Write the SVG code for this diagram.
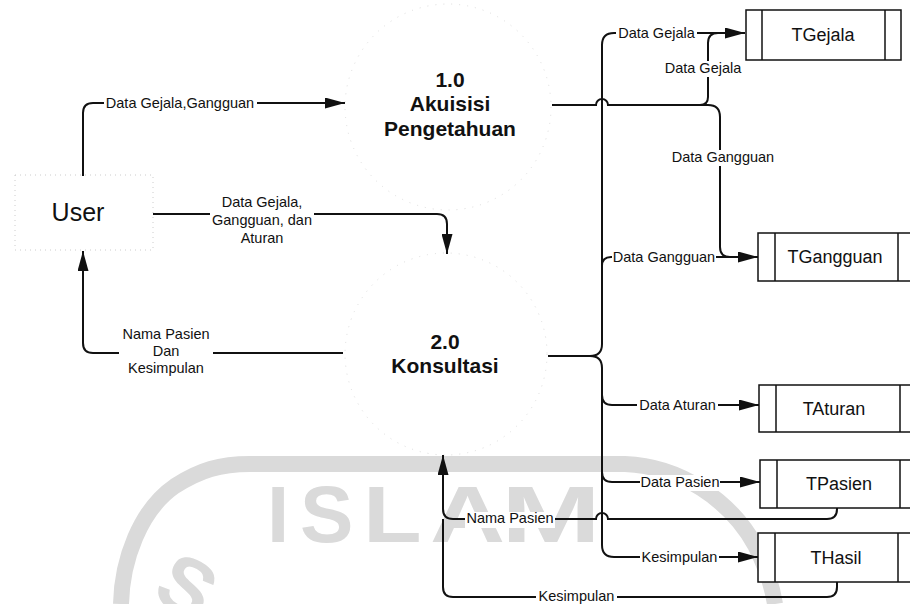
<svg xmlns="http://www.w3.org/2000/svg" width="910" height="604" viewBox="0 0 910 604">
<style>
.wm{fill:#dadada;font-family:"Liberation Sans",Arial,sans-serif;font-size:80px;font-weight:bold}
.band{fill:none;stroke:#dadada;stroke-width:16}
.proc{fill:none;stroke:#dddddd;stroke-width:1;stroke-dasharray:1 7}
.ent{fill:none;stroke:#cccccc;stroke-width:1;stroke-dasharray:1 4}
.ptxt{font-family:"Liberation Sans",Arial,sans-serif;font-size:21px;font-weight:bold;fill:#111;text-anchor:middle}
.utxt{font-family:"Liberation Sans",Arial,sans-serif;font-size:25px;fill:#111;text-anchor:middle}
.ttxt{font-family:"Liberation Sans",Arial,sans-serif;font-size:18px;fill:#111;text-anchor:middle}
.lbl{font-family:"Liberation Sans",Arial,sans-serif;font-size:14.5px;fill:#111;text-anchor:middle}
.bg{fill:#fff;stroke:none}
.store{fill:#fff;stroke:#111;stroke-width:1.5}
.flow{fill:none;stroke:#111;stroke-width:2}
.arr{marker-end:url(#ah)}
</style>
<defs>
<marker id="ah" markerUnits="userSpaceOnUse" markerWidth="20" markerHeight="11" refX="20" refY="5.5" orient="auto">
<path d="M0,0 L20,5.5 L0,11 z" fill="#111"/>
</marker>
</defs>
<rect width="910" height="604" fill="#fff"/>
<g id="watermark">
<path class="band" d="M121,604 C122,560 140,510 175,486 C200,470 220,464 250,464 L625,464 C680,466 730,500 755,545 C765,565 772,585 775,604"/>
<text class="wm" transform="translate(267,542)">I</text>
<text class="wm" transform="translate(300,542)">S</text>
<text class="wm" transform="translate(363,542) scale(1.2,1)">L</text>
<text class="wm" transform="translate(430,542) scale(1.3,1)">A</text>
<text class="wm" transform="translate(501,542) scale(1.5,1)">M</text>
<text class="wm" transform="translate(150,597) rotate(30)">S</text>
</g>
<g id="user">
<rect class="ent" x="15" y="175" width="138" height="75"/>
<text class="utxt" x="78" y="221">User</text>
</g>
<g id="p1">
<circle class="proc" cx="448" cy="107" r="103"/>
<text class="ptxt" x="450" y="87">1.0</text>
<text class="ptxt" x="450" y="111">Akuisisi</text>
<text class="ptxt" x="450" y="136">Pengetahuan</text>
</g>
<g id="p2">
<circle class="proc" cx="446" cy="354" r="101"/>
<text class="ptxt" x="445" y="349">2.0</text>
<text class="ptxt" x="445" y="373">Konsultasi</text>
</g>
<g id="tgejala">
<rect class="store" x="746" y="10" width="155" height="50"/>
<line class="store" x1="762" y1="10" x2="762" y2="60"/>
<line class="store" x1="885" y1="10" x2="885" y2="60"/>
<text class="ttxt" x="823" y="41">TGejala</text>
</g>
<g id="tgangguan">
<rect class="store" x="758" y="233" width="160" height="48"/>
<line class="store" x1="775" y1="233" x2="775" y2="281"/>
<line class="store" x1="898" y1="233" x2="898" y2="281"/>
<text class="ttxt" x="835" y="263">TGangguan</text>
</g>
<g id="taturan">
<rect class="store" x="759" y="385" width="160" height="47"/>
<line class="store" x1="776" y1="385" x2="776" y2="432"/>
<line class="store" x1="900" y1="385" x2="900" y2="432"/>
<text class="ttxt" x="834" y="415">TAturan</text>
</g>
<g id="tpasien">
<rect class="store" x="760" y="460" width="160" height="48"/>
<line class="store" x1="777" y1="460" x2="777" y2="508"/>
<line class="store" x1="900" y1="460" x2="900" y2="508"/>
<text class="ttxt" x="839" y="490">TPasien</text>
</g>
<g id="thasil">
<rect class="store" x="758" y="533" width="160" height="49"/>
<line class="store" x1="775" y1="533" x2="775" y2="582"/>
<line class="store" x1="898" y1="533" x2="898" y2="582"/>
<text class="ttxt" x="836" y="564">THasil</text>
</g>
<g id="connectors">
<path class="flow arr" d="M83,176 L83,113 Q83,103 93,103 L345,103"/>
<path class="flow arr" d="M153,214 L437,214 Q447,214 447,224 L447,254"/>
<path class="flow arr" d="M343,353 L93,353 Q83,353 83,343 L83,251"/>
<path class="flow" d="M552,105 L596,105 A6,6 0 0 1 608,105 L700,105 Q708,105 708,97 L708,43 Q708,33 718,33"/>
<path class="flow arr" d="M700,105 L708,105 Q720,105 720,117 L720,247 Q720,257 730,257 L758,257"/>
<path class="flow arr" d="M548,356 L590,356 Q602,356 602,344 L602,45 Q602,33 614,33 L745,33"/>
<path class="flow arr" d="M590,356 Q602,356 602,368 L602,545 Q602,557 614,557 L758,557"/>
<path class="flow" d="M602,266 Q602,257 611,257 L730,257"/>
<path class="flow arr" d="M602,395 Q602,405 612,405 L759,405"/>
<path class="flow arr" d="M602,472 Q602,482 612,482 L760,482"/>
<path class="flow arr" d="M837,508 L837,509 Q837,519 827,519 L608,519 A6,6 0 0 0 596,519 L453,519 Q443,519 443,509 L443,455"/>
<path class="flow" d="M837,582 L837,587 Q837,597 827,597 L453,597 Q443,597 443,587 L443,519"/>
<g id="labels">
<rect class="bg" x="104" y="96" width="153" height="15"/>
<text class="lbl" x="180" y="108">Data Gejala,Gangguan</text>
<rect class="bg" x="210" y="193" width="104" height="55"/>
<text class="lbl" x="262" y="207">Data Gejala,</text>
<text class="lbl" x="262" y="225">Gangguan, dan</text>
<text class="lbl" x="262" y="243">Aturan</text>
<rect class="bg" x="119" y="325" width="94" height="53"/>
<text class="lbl" x="166" y="339">Nama Pasien</text>
<text class="lbl" x="166" y="356">Dan</text>
<text class="lbl" x="166" y="373">Kesimpulan</text>
<rect class="bg" x="616" y="26" width="81" height="16"/>
<text class="lbl" x="656.5" y="38">Data Gejala</text>
<rect class="bg" x="662" y="61" width="82" height="16"/>
<text class="lbl" x="703" y="73">Data Gejala</text>
<rect class="bg" x="672" y="150" width="102" height="16"/>
<text class="lbl" x="723" y="162">Data Gangguan</text>
<rect class="bg" x="612" y="250" width="104" height="16"/>
<text class="lbl" x="664" y="262">Data Gangguan</text>
<rect class="bg" x="637" y="398" width="81" height="16"/>
<text class="lbl" x="677.5" y="410">Data Aturan</text>
<rect class="bg" x="640" y="475" width="80" height="16"/>
<text class="lbl" x="680" y="487">Data Pasien</text>
<rect class="bg" x="640" y="550" width="79" height="16"/>
<text class="lbl" x="679.5" y="562">Kesimpulan</text>
<rect class="bg" x="465" y="512" width="90" height="16"/>
<text class="lbl" x="510" y="523">Nama Pasien</text>
<rect class="bg" x="536" y="590" width="81" height="14"/>
<text class="lbl" x="576.5" y="601">Kesimpulan</text>
</g>
</g>
</svg>
